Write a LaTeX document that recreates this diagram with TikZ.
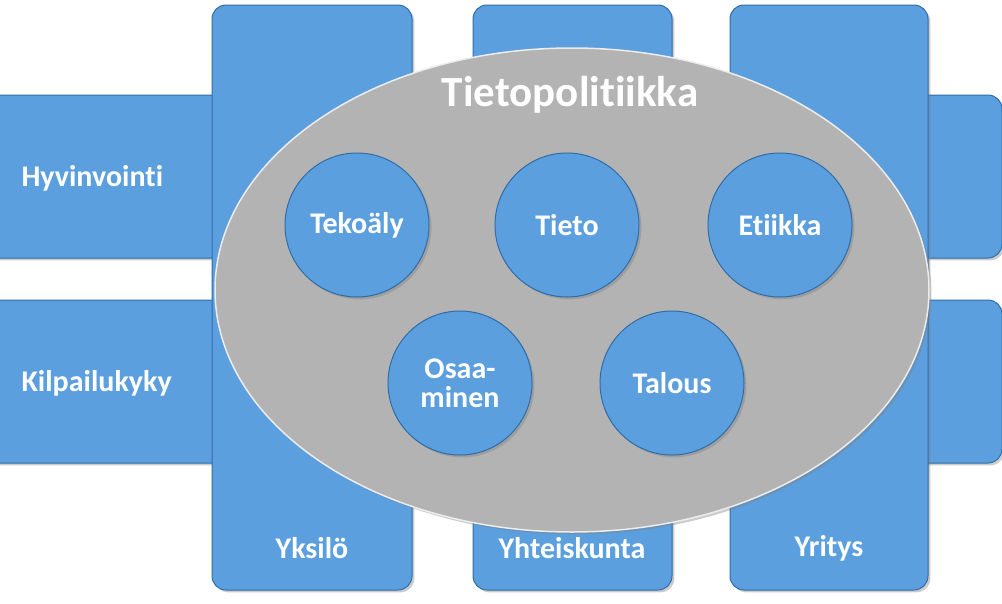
\documentclass[tikz,border=0pt]{standalone}
\usepackage{fontspec}
\setmainfont{Carlito}[Ligatures=NoCommon]
\usetikzlibrary{shadows}
\definecolor{bl}{HTML}{5B9FDE}
\definecolor{bld}{HTML}{2F6DA8}
\definecolor{gr}{HTML}{B3B3B3}
\tikzset{
 bar/.style={fill=bl, draw=bld, line width=1pt, rounded corners=14pt, drop shadow={opacity=0.4}},
 circ/.style={circle, fill=bl, draw=bld, line width=1pt, minimum size=144pt, inner sep=0pt, drop shadow={opacity=0.4}},
 lbl/.style={text=white, font=\bfseries\fontsize{30}{29}\selectfont, align=center}
}
\begin{document}
\begin{tikzpicture}[x=1pt,y=-1pt]
\useasboundingbox (0,0) rectangle (1002,603);
\draw[bar] (-20,95) rectangle (1002,258);
\draw[bar] (-20,300) rectangle (1002,463);
\draw[bar] (212,5) rectangle (412,590);
\draw[bar] (473,5) rectangle (672,590);
\draw[bar] (730,5) rectangle (928,590);
\node[lbl, anchor=west] (h) at (18,178) {Hyvinvointi};
\node[lbl, anchor=west] (k) at (18,383) {Kilpailukyky};
\node[lbl] (y1) at (312,548) {Yksilö};
\node[lbl] (y2) at (572,548) {Yhteiskunta};
\node[lbl] (y3) at (829,548) {Yritys};
\draw[fill=gr, draw=white!85!gray, line width=1.5pt, drop shadow={opacity=0.4}] (572,290) ellipse [x radius=357, y radius=242];
\node[text=white, font=\bfseries\fontsize{43}{45}\selectfont] (t) at (570,95) {Tietopolitiikka};
\node[circ, lbl] (a) at (357,225) {Tekoäly};
\node[circ, lbl] (b) at (567,225) {Tieto};
\node[circ, lbl] (c) at (780,225) {Etiikka};
\node[circ, lbl] (d) at (460,383) {Osaa-\\minen};
\node[circ, lbl] (e) at (672,383) {Talous};
\end{tikzpicture}
\end{document}
